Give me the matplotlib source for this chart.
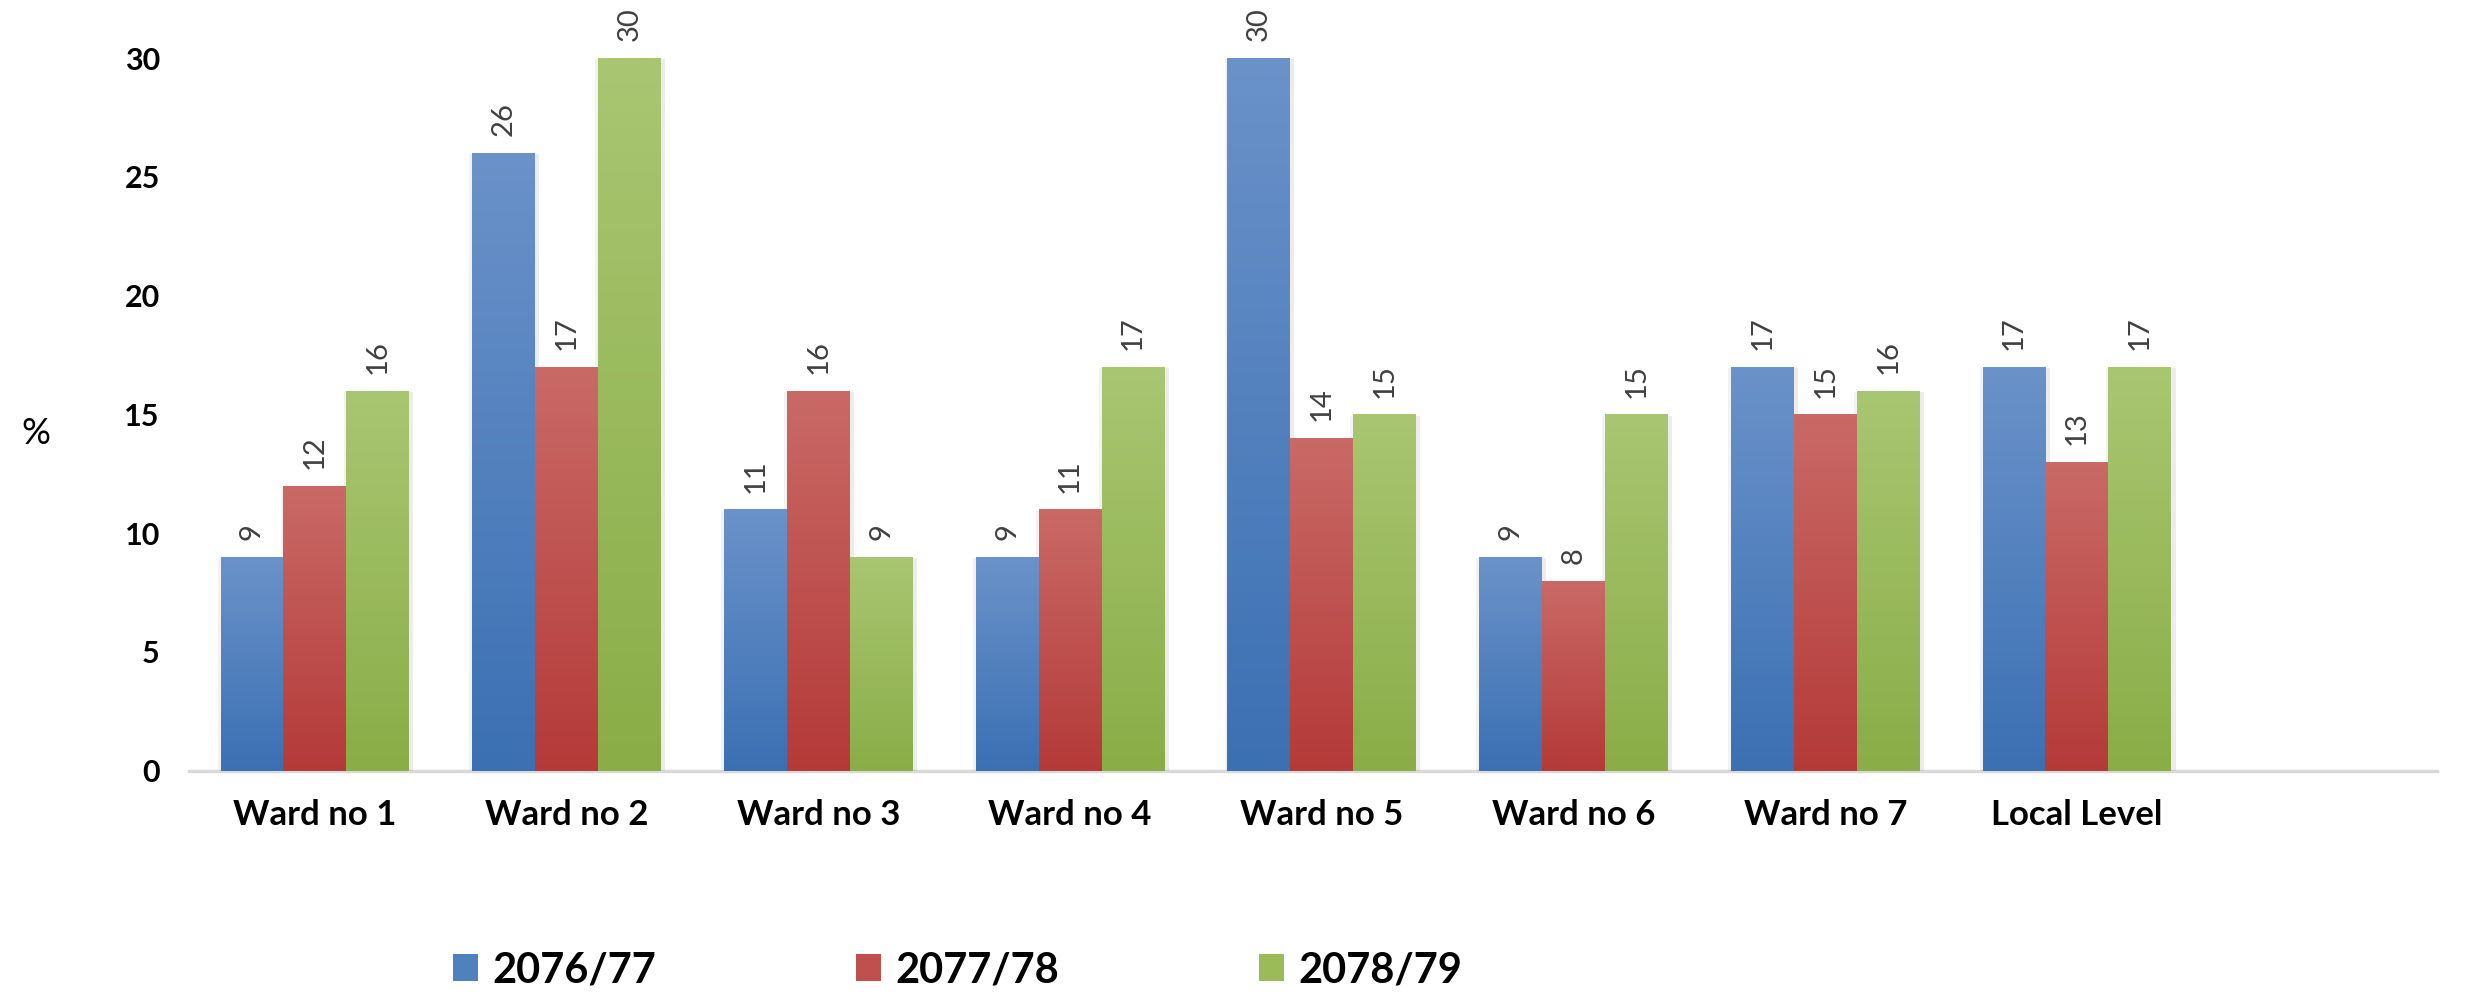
import numpy as np
import matplotlib
matplotlib.use("Agg")
import matplotlib.pyplot as plt
import matplotlib.patheffects as pe
from matplotlib.colors import LinearSegmentedColormap
from matplotlib.patches import Patch

plt.rcParams['font.family'] = ['Lato', 'DejaVu Sans']

# data
categories = ['Ward no 1', 'Ward no 2', 'Ward no 3', 'Ward no 4',
              'Ward no 5', 'Ward no 6', 'Ward no 7', 'Local Level']
series_names = ['2076/77', '2077/78', '2078/79']
y_2076 = [9, 26, 11, 9, 30, 9, 17, 17]
y_2077 = [12, 17, 16, 11, 14, 8, 15, 13]
y_2078 = [16, 30, 9, 17, 15, 15, 16, 17]
yticks = [0, 5, 10, 15, 20, 25, 30]

# (top colour, bottom colour, legend colour) for each series
styles = [('#6b92c9', '#3b70b3', '#4f81bd'),
          ('#c96a67', '#b43a38', '#c0504d'),
          ('#a9c672', '#8aad47', '#9bbb59')]

fig = plt.figure(figsize=(24.68, 9.92), dpi=100)
ax = fig.add_axes([0.0766, 0.223, 0.9108, 0.7185])

x = np.arange(len(categories))
width = 0.25
offsets = [-width, 0, width]
grad = np.linspace(0, 1, 256).reshape(-1, 1)

# soft shadow either side of the bars
shadow = [pe.SimplePatchShadow(offset=(3, -1), shadow_rgbFace='#999999', alpha=0.18),
          pe.SimplePatchShadow(offset=(-2, -1), shadow_rgbFace='#999999', alpha=0.12),
          pe.Normal()]

for vals, off, (top, bot, _) in zip([y_2076, y_2077, y_2078], offsets, styles):
    bars = ax.bar(x + off, vals, width=width, color=bot, edgecolor='none', zorder=2,
                  path_effects=shadow)
    cmap = LinearSegmentedColormap.from_list('g', [top, bot])
    for b in bars:
        x0 = b.get_x()
        im = ax.imshow(grad, extent=[x0, x0 + b.get_width(), 0, b.get_height()],
                       aspect='auto', cmap=cmap, origin='upper', zorder=3)
        im.set_clip_path(b)
    labels = ax.bar_label(bars, labels=[str(v) for v in vals], rotation=90, padding=12,
                          fontsize=21, color='#404040')
    for t in labels:
        t.set_annotation_clip(False)

ax.set_xlim(-0.5, 8.43)
ax.set_ylim(0, 30)
ax.set_yticks(yticks)
ax.set_xticks(x)
ax.set_xticklabels(categories, fontsize=25, fontweight='bold')
ax.set_yticklabels([str(v) for v in yticks], fontsize=22, fontweight='bold')
ax.tick_params(axis='x', length=0, pad=20)
ax.tick_params(axis='y', length=0, pad=21)
for s in ['top', 'right', 'left']:
    ax.spines[s].set_visible(False)
ax.spines['bottom'].set_color('#d9d9d9')
ax.spines['bottom'].set_linewidth(2.5)
ax.spines['bottom'].set_zorder(1)

fig.text(36 / 2468, 1 - 433 / 992, '%', fontsize=26, ha='center', va='center')

handles = [Patch(facecolor=s[2], edgecolor='none') for s in styles]
fig.legend(handles, series_names, loc='center', bbox_to_anchor=(0.388, 0.022), ncol=3,
           frameon=False, prop={'weight': 'bold', 'size': 30},
           handlelength=0.6, handleheight=0.6, handletextpad=0.35, columnspacing=4.8)

fig.savefig('out.png', dpi=100)
